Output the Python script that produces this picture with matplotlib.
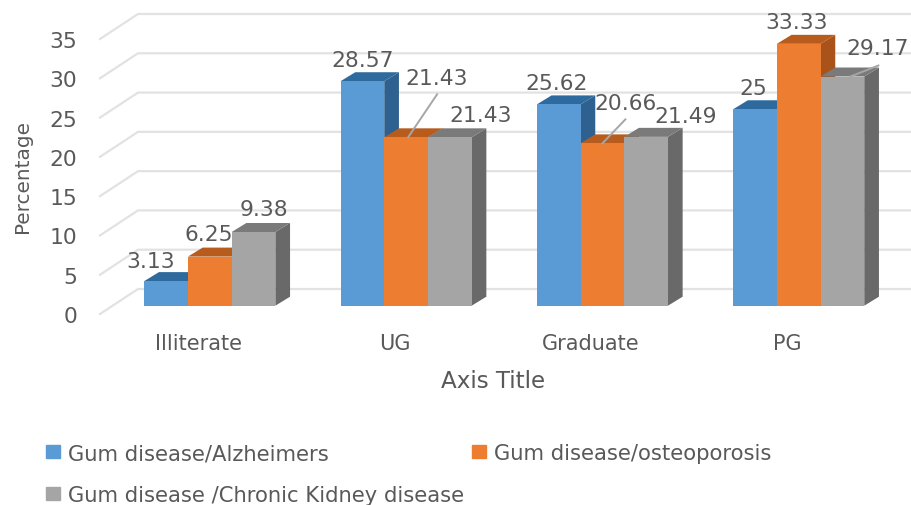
import matplotlib
matplotlib.use('Agg')
import matplotlib.pyplot as plt
import numpy as np
from matplotlib.patches import Patch

categories = ['Illiterate', 'UG', 'Graduate', 'PG']
alzheimers = [3.13, 28.57, 25.62, 25]
osteoporosis = [6.25, 21.43, 20.66, 33.33]
kidney = [9.38, 21.43, 21.49, 29.17]
series_names = ['Gum disease/Alzheimers', 'Gum disease/osteoporosis', 'Gum disease /Chronic Kidney disease']
y_ticks = [0, 5, 10, 15, 20, 25, 30, 35]

W, H = 911, 506
# px per unit on the two axes
xs = 196.3
ys = 7.857
x0 = 209.8
base = 306.7
bar_w = 43.7 / xs
depth_x = 14.7 / xs
depth_y = 9 / ys

front = ['#5B9BD5', '#ED7D31', '#A5A5A5']
top = ['#2F6A9E', '#B85C1D', '#7A7A7A']
side = ['#2F6190', '#A9521A', '#696969']
text_col = '#595959'
grid_col = '#E2E2E2'

plt.rcParams['font.family'] = 'DejaVu Sans'

fig = plt.figure(figsize=(W / 100, H / 100), dpi=100)
low = -3
bottom_px = base - low * ys
ax = fig.add_axes([100 / W, (H - bottom_px) / H, (W - 100) / W, bottom_px / H])
ax.set_xlim((100 - x0) / xs, (W - x0) / xs)
ax.set_ylim(low, base / ys)
for s in ax.spines.values():
    s.set_visible(False)

# floor and back wall lines
drop = 8.3 / ys
rise = 16.7 / ys
for t in y_ticks:
    ax.plot([(100 - x0) / xs, (138 - x0) / xs, (W - x0) / xs], [t - drop, t + rise, t + rise],
            color=grid_col, lw=1.6, clip_on=False, zorder=1)

# faux 3d bars, painted left to right so each front hides the previous side
pos = np.arange(len(categories))
data = [alzheimers, osteoporosis, kidney]
for g in pos:
    for i, vals in enumerate(data):
        v = vals[g]
        l = g + (i - 1.5) * bar_w
        r = l + bar_w
        z = 2 + g * 3 + i * 0.1
        ax.fill([r, r + depth_x, r + depth_x, r], [0, depth_y, v + depth_y, v], color=side[i], lw=0, zorder=z)
        ax.fill([l, l + depth_x, r + depth_x, r], [v, v + depth_y, v + depth_y, v], color=top[i], lw=0, zorder=z)
        ax.bar(l + bar_w / 2, v, bar_w, color=front[i], lw=0, zorder=z + 0.01)

# label offsets from the top centre of each bar, in pixels
offsets = [
    [(-15, 20), (0, 21), (-2, 21), (-2, 21)],
    [(-1, 23), (31, 59), (23, 40), (-2, 22)],
    [(10, 23), (31, 22), (40, 21), (35, 29)],
]
for i, vals in enumerate(data):
    for g, v in enumerate(vals):
        dx, dy = offsets[i][g]
        ax.annotate(f'{v:g}', (g + (i - 1) * bar_w, v), xytext=(dx * 0.72, dy * 0.72),
                    textcoords='offset points', ha='center', va='center',
                    fontsize=15.7, color=text_col, zorder=50, annotation_clip=False)

# leader lines: (series, group, start offset, end offset)
leaders = [
    (1, 1, (2, 0), (31, 43)),
    (1, 2, (0, 0), (23, 24)),
    (2, 3, (8, 0), (36, 11)),
]
for i, g, a, b in leaders:
    v = data[i][g]
    xc = g + (i - 1) * bar_w
    ax.plot([xc + a[0] / xs, xc + b[0] / xs], [v + a[1] / ys, v + b[1] / ys],
            color='#A6A6A6', lw=1.4, zorder=49)

ax.set_xticks(pos - 11.5 / xs, categories)
ax.set_yticks(np.array(y_ticks) - drop, [str(t) for t in y_ticks])
ax.tick_params(axis='both', length=0, labelsize=15, labelcolor=text_col)
ax.tick_params(axis='y', labelsize=15.7, pad=16.5)
ax.tick_params(axis='x', pad=3)

ax.set_ylabel('Percentage', fontsize=14.4, color=text_col)
ax.yaxis.set_label_coords(32 / W, 1 - 177 / H, transform=fig.transFigure)
ax.set_xlabel('Axis Title', fontsize=16.6, color=text_col)
ax.xaxis.set_label_coords(493 / W, 1 - 382 / H, transform=fig.transFigure)
ax.xaxis.label.set_va('center')

handles = [Patch(color=front[0], label=series_names[0]),
           Patch(color=front[2], label=series_names[2]),
           Patch(color=front[1], label=series_names[1])]
fig.legend(handles=handles, ncol=2, loc='upper left', bbox_to_anchor=(46 / W, 1 - 444 / H),
           frameon=False, fontsize=15.2, labelcolor=text_col, handlelength=0.67, handleheight=0.57,
           handletextpad=0.38, columnspacing=0.38, labelspacing=1.05, borderpad=0, borderaxespad=0)

fig.savefig('out.png', dpi=100)
